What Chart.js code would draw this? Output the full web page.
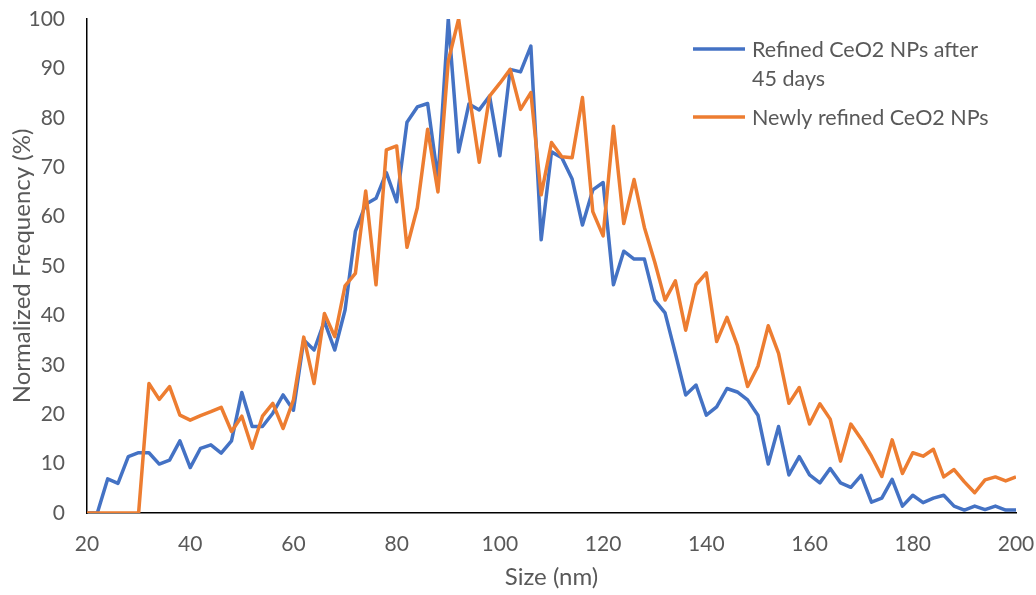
<!DOCTYPE html>
<html>
<head>
<meta charset="utf-8">
<title>Particle size distribution</title>
<script src="https://cdn.jsdelivr.net/npm/chart.js@4.4.1/dist/chart.umd.min.js"></script>
<style>
  html, body { margin: 0; padding: 0; background: #ffffff; }
  #wrap { width: 1036px; height: 595px; position: relative; }
</style>
</head>
<body>
<div id="wrap"><canvas id="chart" width="1036" height="595"></canvas></div>
<script>
// Size bins (nm)
const sizes = [
  20, 22, 24, 26, 28, 30, 32, 34, 36, 38,
  40, 42, 44, 46, 48, 50, 52, 54, 56, 58,
  60, 62, 64, 66, 68, 70, 72, 74, 76, 78,
  80, 82, 84, 86, 88, 90, 92, 94, 96, 98,
  100, 102, 104, 106, 108, 110, 112, 114, 116, 118,
  120, 122, 124, 126, 128, 130, 132, 134, 136, 138,
  140, 142, 144, 146, 148, 150, 152, 154, 156, 158,
  160, 162, 164, 166, 168, 170, 172, 174, 176, 178,
  180, 182, 184, 186, 188, 190, 192, 194, 196, 198,
  200
];

// Normalized frequency (%) — refined CeO2 NPs after 45 days
const after45Days = [
  0, 0, 6.9, 6.0, 11.4, 12.2, 12.2, 9.9, 10.7, 14.6,
  9.2, 13.1, 13.8, 12.1, 14.6, 24.4, 17.5, 17.5, 20.2, 23.9,
  20.8, 35.0, 33.0, 38.8, 33.0, 41.1, 57.0, 62.5, 63.7, 68.9,
  63.0, 79.1, 82.2, 82.9, 67.5, 100, 73.1, 82.8, 81.6, 84.4,
  72.3, 89.8, 89.3, 94.5, 55.3, 73.1, 71.9, 67.6, 58.3, 65.4,
  66.9, 46.2, 53.0, 51.4, 51.4, 43.1, 40.5, 32.3, 23.9, 25.9,
  19.8, 21.5, 25.2, 24.5, 22.9, 19.8, 9.9, 17.5, 7.7, 11.4,
  7.7, 6.1, 9.0, 6.1, 5.2, 7.6, 2.2, 3.0, 6.8, 1.4,
  3.6, 2.1, 3.0, 3.6, 1.4, 0.6, 1.4, 0.7, 1.4, 0.6,
  0.6
];

// Normalized frequency (%) — newly refined CeO2 NPs
const newlyRefined = [
  0, 0, 0, 0, 0, 0, 26.2, 23.0, 25.6, 19.8,
  18.8, 19.7, 20.5, 21.4, 16.5, 19.6, 13.1, 19.6, 22.2, 17.1,
  22.9, 35.6, 26.2, 40.4, 35.7, 46.0, 48.5, 65.2, 46.2, 73.5,
  74.3, 53.8, 61.8, 77.7, 65.0, 91.5, 100, 85.0, 71.0, 84.4,
  87.0, 89.8, 81.7, 85.1, 64.4, 75.0, 72.1, 71.9, 84.1, 61.0,
  56.1, 78.3, 58.6, 67.5, 57.8, 50.8, 43.1, 47.0, 37.0, 46.2,
  48.6, 34.7, 39.6, 34.0, 25.6, 29.7, 37.9, 32.3, 22.2, 25.4,
  18.0, 22.1, 19.0, 10.5, 18.0, 15.0, 11.5, 7.4, 14.8, 8.0,
  12.2, 11.5, 12.9, 7.3, 8.8, 6.3, 4.1, 6.7, 7.3, 6.5,
  7.3
];

// Axis tick values
const xTickValues = [20, 40, 60, 80, 100, 120, 140, 160, 180, 200];
const yTickValues = [0, 10, 20, 30, 40, 50, 60, 70, 80, 90, 100];

const seriesLabels = ['Refined CeO2 NPs after 45 days', 'Newly refined CeO2 NPs'];
const seriesColors = ['#4472C4', '#ED7D31'];

const FONT_FAMILY = 'Lato';
const TICK_SIZE = 21;
const TITLE_SIZE = 24;
const LEGEND_SIZE = 21.5;
const TEXT_COLOR = '#595959';

function toPoints(xs, ys) {
  return xs.map((x, i) => ({ x: x, y: ys[i] }));
}

// Word-wrap a label into lines no wider than maxWidth
function wrapText(ctx, text, maxWidth) {
  const words = text.split(' ');
  const lines = [];
  let line = '';
  words.forEach(w => {
    const test = line ? line + ' ' + w : w;
    if (line && ctx.measureText(test).width > maxWidth) {
      lines.push(line);
      line = w;
    } else {
      line = test;
    }
  });
  if (line) lines.push(line);
  return lines;
}

// Legend drawn inside the plot at the upper right, with wrapped labels
const sideLegend = {
  id: 'sideLegend',
  afterDraw(chart, args, opts) {
    const ctx = chart.ctx;
    ctx.save();
    ctx.font = LEGEND_SIZE + 'px ' + FONT_FAMILY;
    ctx.fillStyle = TEXT_COLOR;
    ctx.textAlign = 'left';
    ctx.textBaseline = 'alphabetic';
    let y = opts.top;
    chart.data.datasets.forEach(ds => {
      const lines = wrapText(ctx, ds.label, opts.maxWidth);
      ctx.strokeStyle = ds.borderColor;
      ctx.lineWidth = ds.borderWidth;
      ctx.lineCap = 'butt';
      ctx.beginPath();
      ctx.moveTo(opts.left, y);
      ctx.lineTo(opts.left + opts.sampleLength, y);
      ctx.stroke();
      const tx = opts.left + opts.sampleLength + opts.gap;
      lines.forEach((ln, i) => {
        ctx.fillText(ln, tx, y + opts.baselineOffset + i * opts.lineHeight);
      });
      y += lines.length * opts.lineHeight + opts.rowGap;
    });
    ctx.restore();
  }
};

const ctx = document.getElementById('chart').getContext('2d');
new Chart(ctx, {
  type: 'line',
  data: {
    datasets: [
      {
        label: seriesLabels[0],
        data: toPoints(sizes, after45Days),
        borderColor: seriesColors[0],
        backgroundColor: seriesColors[0],
        borderWidth: 3.5,
        pointRadius: 0,
        tension: 0,
        borderJoinStyle: 'round',
        order: 1
      },
      {
        label: seriesLabels[1],
        data: toPoints(sizes, newlyRefined),
        borderColor: seriesColors[1],
        backgroundColor: seriesColors[1],
        borderWidth: 3.5,
        pointRadius: 0,
        tension: 0,
        borderJoinStyle: 'round',
        order: 0
      }
    ]
  },
  options: {
    responsive: false,
    animation: false,
    devicePixelRatio: 1,
    layout: { padding: { left: 0, right: 20, top: 19, bottom: 0 } },
    plugins: {
      legend: { display: false },
      tooltip: { enabled: false },
      sideLegend: {
        left: 693,
        top: 49,
        sampleLength: 52,
        gap: 7,
        baselineOffset: 8,
        lineHeight: 29,
        rowGap: 10,
        maxWidth: 245
      }
    },
    scales: {
      x: {
        type: 'linear',
        min: 20,
        max: 200,
        afterBuildTicks: s => { s.ticks = xTickValues.map(v => ({ value: v })); },
        afterFit: s => {
          s.height = 82;
          // plot edges are set by the layout padding, not by label overhang
          s.paddingLeft = 0;
          s.paddingRight = 0;
        },
        grid: { display: false, drawTicks: false },
        border: { display: true, color: '#000000', width: 1.5 },
        ticks: {
          color: TEXT_COLOR,
          padding: 19,
          maxRotation: 0,
          font: { family: FONT_FAMILY, size: TICK_SIZE }
        },
        title: {
          display: true,
          text: 'Size (nm)',
          color: TEXT_COLOR,
          padding: { top: 0, bottom: 3 },
          font: { family: FONT_FAMILY, size: TITLE_SIZE }
        }
      },
      y: {
        min: 0,
        max: 100,
        afterBuildTicks: s => { s.ticks = yTickValues.map(v => ({ value: v })); },
        afterFit: s => {
          s.width = 87;
          s.paddingTop = 0;
          s.paddingBottom = 0;
        },
        grid: { display: false, drawTicks: false },
        border: { display: true, color: '#000000', width: 1.5 },
        ticks: {
          color: TEXT_COLOR,
          padding: 22,
          font: { family: FONT_FAMILY, size: TICK_SIZE }
        },
        title: {
          display: true,
          text: 'Normalized Frequency (%)',
          color: TEXT_COLOR,
          padding: { top: 8, bottom: 0 },
          font: { family: FONT_FAMILY, size: TITLE_SIZE }
        }
      }
    }
  },
  plugins: [sideLegend]
});
</script>
</body>
</html>
